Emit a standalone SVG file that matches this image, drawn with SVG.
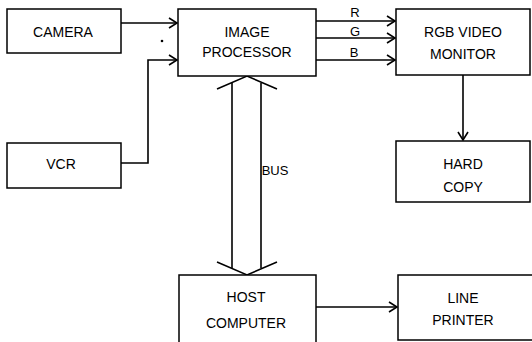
<svg xmlns="http://www.w3.org/2000/svg" width="532" height="342" viewBox="0 0 532 342">
<defs>
<style>
.box{fill:#fff;stroke:#000;stroke-width:1.5}
.ln{fill:none;stroke:#000;stroke-width:1.6}
text{font-family:"Liberation Sans",Arial,sans-serif;font-size:14px;fill:#000;text-anchor:middle}
.lbl{font-size:13px}
</style>
<marker id="arr" markerWidth="12" markerHeight="12" refX="10" refY="6" orient="auto" markerUnits="userSpaceOnUse">
<path d="M2,1 L10,6 L2,11" fill="none" stroke="#000" stroke-width="1.6"/>
</marker>
</defs>
<rect width="532" height="342" fill="#fff"/>
<g id="connectors">
<path class="ln" d="M121,23 H177" marker-end="url(#arr)"/>
<path class="ln" d="M121,163 H148 V60 H177" marker-end="url(#arr)"/>
<path class="ln" d="M316,21 H395" marker-end="url(#arr)"/>
<path class="ln" d="M316,38 H395" marker-end="url(#arr)"/>
<path class="ln" d="M316,60 H395" marker-end="url(#arr)"/>
<path class="ln" d="M463,75 V140" marker-end="url(#arr)"/>
<path class="ln" d="M316,307 H397" marker-end="url(#arr)"/>
<g id="bus">
<path class="ln" d="M217,89 L247,76 L277,89"/>
<path class="ln" d="M232,83 V268"/>
<path class="ln" d="M261,83 V268"/>
<path class="ln" d="M217,262 L247,275 L277,262"/>
</g>
<circle cx="162" cy="41" r="1.3" fill="#000"/>
<text class="lbl" x="355" y="17">R</text>
<text class="lbl" x="355" y="36">G</text>
<text class="lbl" x="354" y="57">B</text>
<text class="lbl" x="275" y="175">BUS</text>
</g>
<g id="camera">
<rect class="box" x="7" y="9" width="114" height="44"/>
<text x="63" y="37">CAMERA</text>
</g>
<g id="vcr">
<rect class="box" x="7" y="143" width="114" height="45"/>
<text x="61" y="169">VCR</text>
</g>
<g id="image-processor">
<rect class="box" x="178" y="9" width="138" height="67"/>
<text x="247" y="37">IMAGE</text>
<text x="247" y="57">PROCESSOR</text>
</g>
<g id="rgb-monitor">
<rect class="box" x="396" y="9" width="134" height="66"/>
<text x="463" y="37">RGB VIDEO</text>
<text x="463" y="59">MONITOR</text>
</g>
<g id="hard-copy">
<rect class="box" x="396" y="141" width="134" height="61"/>
<text x="463" y="169">HARD</text>
<text x="463" y="192">COPY</text>
</g>
<g id="host-computer">
<rect class="box" x="179" y="275" width="137" height="80"/>
<text x="246" y="302">HOST</text>
<text x="246" y="328">COMPUTER</text>
</g>
<g id="line-printer">
<rect class="box" x="398" y="275" width="145" height="65"/>
<text x="463" y="303">LINE</text>
<text x="463" y="325">PRINTER</text>
</g>
</svg>
